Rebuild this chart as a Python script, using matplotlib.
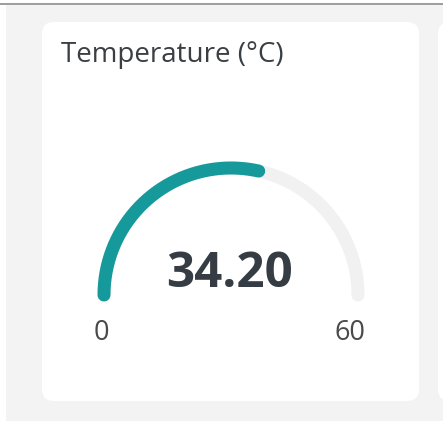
import numpy as np
import matplotlib
matplotlib.use("Agg")
import matplotlib.pyplot as plt
from matplotlib.patches import FancyBboxPatch, Rectangle

# gauge data
title = "Temperature (°C)"
gauge_min = 0
gauge_max = 60
gauge_value = 34.20

W, H = 443, 421
fig = plt.figure(figsize=(W / 100, H / 100), dpi=100)
fig.patch.set_facecolor("white")
ax = fig.add_axes([0, 0, 1, 1])
ax.set_xlim(0, W)
ax.set_ylim(H, 0)
ax.axis("off")

# page background + top rule
ax.add_patch(Rectangle((6, 5), W - 6, H - 5, facecolor="#f3f3f3", edgecolor="none"))
ax.plot([0, W], [4, 4], color="#8c8c8c", lw=1.2, solid_capstyle="butt")

# cards
ax.add_patch(FancyBboxPatch((42 + 12, 22 + 12), 377 - 24, 379 - 24,
                            boxstyle="round,pad=12", facecolor="white", edgecolor="none"))
ax.add_patch(FancyBboxPatch((438 + 12, 22 + 12), 100, 379 - 24,
                            boxstyle="round,pad=12", facecolor="white", edgecolor="none"))

ax.text(61, 62, title, fontsize=20, family="Open Sans", color="#3a3f44",
        ha="left", va="baseline")

# gauge arc
cx, cy, r = 231, 295, 127
lw = 13 * 0.72

def arc(v0, v1):
    a0 = np.pi * (1 - (v0 - gauge_min) / (gauge_max - gauge_min))
    a1 = np.pi * (1 - (v1 - gauge_min) / (gauge_max - gauge_min))
    t = np.linspace(a0, a1, 200)
    return cx + r * np.cos(t), cy - r * np.sin(t)

xs, ys = arc(gauge_min, gauge_max)
ax.plot(xs, ys, color="#f1f1f1", lw=lw, solid_capstyle="round")
xs, ys = arc(gauge_min, gauge_value)
ax.plot(xs, ys, color="#16999a", lw=lw, solid_capstyle="round")

ax.text(cx - 1, 287, f"{gauge_value:.2f}", fontsize=35.5, family="Open Sans",
        fontweight="bold", color="#353c43", ha="center", va="baseline")
ax.text(cx - r - 3, 340, str(gauge_min), fontsize=19.5, family="Open Sans",
        color="#4a4a4a", ha="center", va="baseline")
ax.text(cx + r - 8, 340, str(gauge_max), fontsize=19.5, family="Open Sans",
        color="#4a4a4a", ha="center", va="baseline")

fig.savefig("out.png", dpi=100, facecolor=fig.get_facecolor())
